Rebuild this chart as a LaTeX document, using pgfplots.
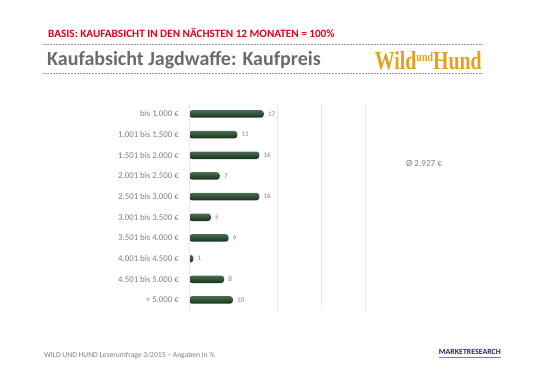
\documentclass[border=0pt]{standalone}
\usepackage{fontspec}
\setmainfont{Carlito}
\newfontfamily\serifb{Liberation Serif}
\usepackage{graphicx}
\usepackage{pgfplots}
\pgfplotsset{compat=1.18}
\definecolor{tgray}{HTML}{6B6B6B}
\definecolor{lgray}{HTML}{7F7F7F}
\definecolor{bred}{HTML}{E2001A}
\definecolor{gold}{HTML}{E3A21A}
\definecolor{navy}{HTML}{1F2A6B}
\definecolor{gtop}{HTML}{4A6E4F}
\definecolor{gmid}{HTML}{2A4C30}
\definecolor{gbot}{HTML}{17301B}
\pgfplotsset{gbar/.style={draw=none, top color=gtop, middle color=gmid, bottom color=gbot, rounded corners=3pt}}
\begin{document}
\begin{tikzpicture}[x=1pt,y=1pt]
\path[use as bounding box] (0,0) rectangle (541,380);
% header
\node[anchor=base west, inner sep=0pt, text=bred, font=\fontsize{11.2}{13}\selectfont\bfseries] at (48,342.7) {BASIS: KAUFABSICHT IN DEN NÄCHSTEN 12 MONATEN = 100\%};
\draw[gray!80, line width=0.8pt, dash pattern=on 0.8pt off 0.7pt] (42,336) -- (482,336);
\draw[gray!80, line width=0.8pt, dash pattern=on 0.8pt off 0.7pt] (42,307) -- (482,307);
\node[anchor=base west, inner sep=0pt, text=tgray, font=\fontsize{20}{24}\selectfont\bfseries] at (47,314) {Kaufabsicht Jagdwaffe: Kaufpreis};
\node[anchor=south east, inner sep=0pt, text=gold] at (482,310) {\resizebox{107pt}{18pt}{\serifb\bfseries Wild\raisebox{3pt}{\tiny und}Hund}};
% footer
\node[anchor=base west, inner sep=0pt, text=lgray, font=\fontsize{7.6}{9}\selectfont] at (44,22) {WILD UND HUND Leserumfrage 3/2015 -- Angaben in \%};
\node[anchor=base east, inner sep=0pt, text=navy, font=\fontsize{6.3}{7}\selectfont\bfseries] at (501,25) {\resizebox{62pt}{!}{MARKETRESEARCH}};
\draw[navy!60, line width=0.6pt] (439,22.5) -- (501,22.5);
% average
\node[anchor=west, inner sep=0pt, text=lgray, font=\fontsize{9.2}{11}\selectfont] at (406,216) {Ø 2.927 €};
\begin{axis}[
  at={(189pt,69.7pt)}, anchor=south west,
  scale only axis, width=176pt, height=206.7pt,
  xmin=0, xmax=40, ymin=-0.5, ymax=9.5, y dir=reverse,
  xtick={20,30,40}, xticklabels={}, xmajorgrids,
  grid style={draw=black!9, line width=0.7pt},
  ytick={0,...,9},
  yticklabels={bis 1.000 €, 1.001 bis 1.500 €, 1.501 bis 2.000 €, 2.001 bis 2.500 €, 2.501 bis 3.000 €, 3.001 bis 3.500 €, 3.501 bis 4.000 €, 4.001 bis 4.500 €, 4.501 bis 5.000 €, > 5.000 €},
  yticklabel style={font=\fontsize{8.8}{10}\selectfont, text=lgray, anchor=east, inner sep=0pt, xshift=-10pt},
  major tick length=0pt,
  axis line style={draw=none},
  clip=false,
  xbar, bar width=7.5pt, bar shift=0pt,
  /pgf/number format/assume math mode=true,
  nodes near coords,
  nodes near coords style={font=\fontsize{7}{8}\selectfont, text=lgray, anchor=west, inner sep=0pt, xshift=4pt},
]
\addplot[gbar] coordinates {(17,0)};
\addplot[gbar] coordinates {(11,1)};
\addplot[gbar] coordinates {(16,2)};
\addplot[gbar] coordinates {(7,3)};
\addplot[gbar] coordinates {(16,4)};
\addplot[gbar] coordinates {(5,5)};
\addplot[gbar] coordinates {(9,6)};
\addplot[gbar] coordinates {(1,7)};
\addplot[gbar] coordinates {(8,8)};
\addplot[gbar] coordinates {(10,9)};
\end{axis}
\draw[black!9, line width=0.7pt] (189,69.7) -- (189,276.4);
\end{tikzpicture}
\end{document}
